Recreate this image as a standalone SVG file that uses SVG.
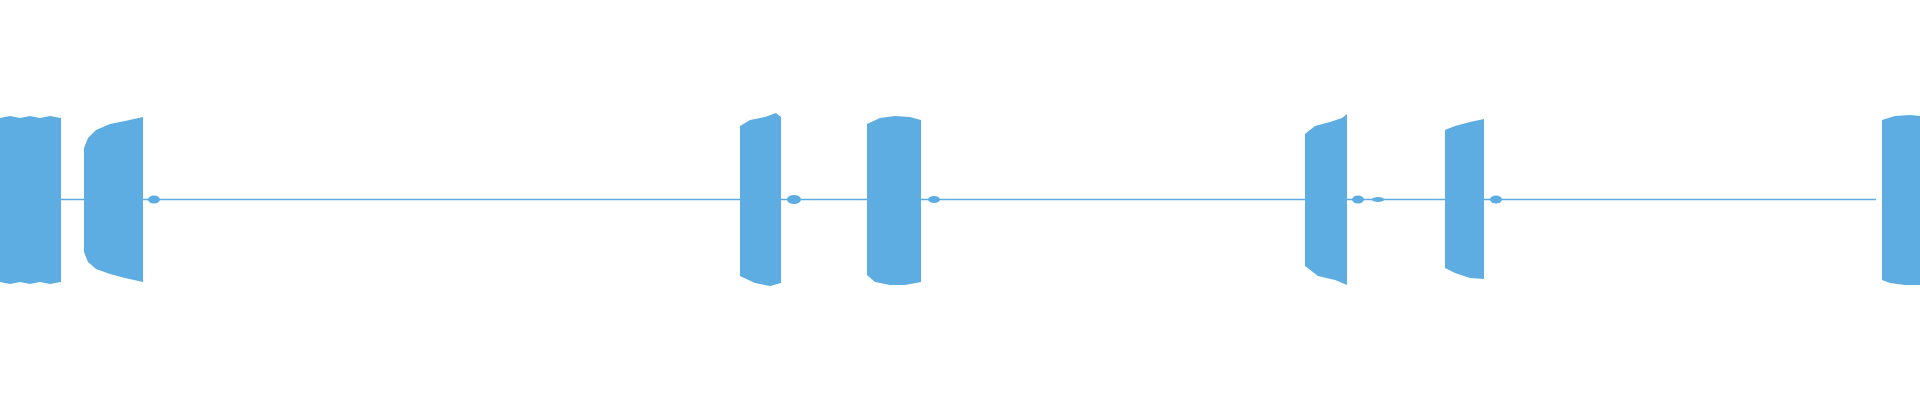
<svg xmlns="http://www.w3.org/2000/svg" width="1920" height="400" viewBox="0 0 1920 400">
<style>.w{fill:#5DADE2}.l{stroke:#5DADE2;stroke-width:1.5;fill:none}</style>
<rect width="1920" height="400" fill="#fff"/>
<line class="l" x1="0" y1="199.5" x2="1876" y2="199.5"/>
<g class="w">
<path d="M0 118 L10 116 L20 118 L30 116 L40 118 L50 116 L61 118 L61 282 L50 284 L40 282 L30 284 L20 282 L10 284 L0 282Z"/>
<path d="M84 148 L88 138 L96 130 L110 124 L125 121 L143 117 L143 282 L125 278 L110 274 L96 269 L88 262 L84 252Z"/>
<path d="M740 126 L750 120 L765 117 L776 113 L781 117 L781 283 L770 286 L755 283 L740 276Z"/>
<path d="M867 124 L880 118 L895 116 L910 117 L921 120 L921 282 L905 285 L890 285 L875 282 L867 275Z"/>
<path d="M1305 134 L1315 126 L1330 122 L1342 118 L1347 114 L1347 285 L1335 280 L1318 276 L1305 266Z"/>
<path d="M1445 130 L1455 126 L1470 122 L1484 119 L1484 279 L1470 278 L1455 273 L1445 268Z"/>
<path d="M1882 120 L1895 116 L1910 115 L1920 116 L1920 285 L1905 285 L1890 283 L1882 280Z"/>
<ellipse cx="154" cy="199.5" rx="6" ry="4"/>
<ellipse cx="794" cy="199.5" rx="7" ry="4.5"/>
<ellipse cx="934" cy="199.5" rx="6" ry="3.5"/>
<ellipse cx="1358" cy="199.5" rx="6" ry="4"/>
<ellipse cx="1378" cy="199.5" rx="6" ry="2.5"/>
<ellipse cx="1496" cy="199.5" rx="6" ry="4"/>
</g>
</svg>
